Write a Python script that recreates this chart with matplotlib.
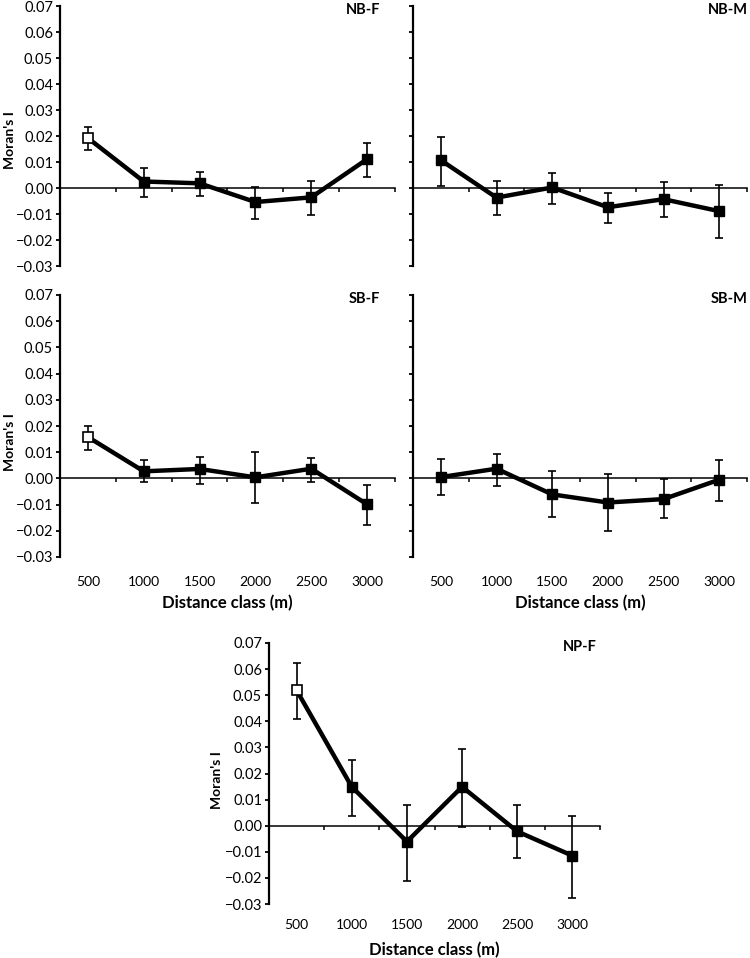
import matplotlib
matplotlib.use("Agg")
import matplotlib.pyplot as plt
import numpy as np

plt.rcParams['font.family'] = ['Lato', 'DejaVu Sans']

W, H = 750, 958

DIST = ["500", "1000", "1500", "2000", "2500", "3000"]
YTICKS = [-0.03, -0.02, -0.01, 0.00, 0.01, 0.02, 0.03, 0.04, 0.05, 0.06, 0.07]

# Moran's I per distance class, with lower / upper limits of the bars
NBF_I  = [0.0192, 0.0025, 0.0018, -0.0054, -0.0036, 0.0111]
NBF_LO = [0.0148, -0.0034, -0.0030, -0.0121, -0.0104, 0.0044]
NBF_HI = [0.0236, 0.0078, 0.0060, 0.0004, 0.0027, 0.0173]
NBF_SIG = [True, False, False, False, False, False]

NBM_I  = [0.0107, -0.0037, 0.0002, -0.0074, -0.0043, -0.0089]
NBM_LO = [0.0008, -0.0103, -0.0060, -0.0133, -0.0112, -0.0192]
NBM_HI = [0.0196, 0.0026, 0.0056, -0.0018, 0.0023, 0.0013]
NBM_SIG = [False, False, False, False, False, False]

SBF_I  = [0.0158, 0.0027, 0.0036, 0.0004, 0.0037, -0.0099]
SBF_LO = [0.0110, -0.0015, -0.0020, -0.0094, -0.0015, -0.0177]
SBF_HI = [0.0200, 0.0070, 0.0083, 0.0099, 0.0078, -0.0025]
SBF_SIG = [True, False, False, False, False, False]

SBM_I  = [0.0005, 0.0037, -0.0061, -0.0092, -0.0079, -0.0005]
SBM_LO = [-0.0064, -0.0029, -0.0148, -0.0202, -0.0151, -0.0085]
SBM_HI = [0.0074, 0.0092, 0.0027, 0.0018, -0.0004, 0.0070]
SBM_SIG = [False, False, False, False, False, False]

NPF_I  = [0.0519, 0.0149, -0.0061, 0.0149, -0.0022, -0.0115]
NPF_LO = [0.0407, 0.0039, -0.0211, -0.0004, -0.0125, -0.0276]
NPF_HI = [0.0625, 0.0252, 0.0081, 0.0294, 0.0081, 0.0039]
NPF_SIG = [True, False, False, False, False, False]


def fmt(v):
    return f"{v:.2f}".replace("-", "\u2212")


fig = plt.figure(figsize=(W / 100, H / 100), dpi=100)


def panel(box, vals, lo, hi, sig, title, title_x, ylab=None, xlab=None):
    # box in pixels: left, top, right, bottom
    l, t, r, b = box
    ax = fig.add_axes([l / W, 1 - b / H, (r - l) / W, (b - t) / H])
    hpx = b - t
    x = np.arange(len(DIST))
    vals = np.array(vals)
    err = [vals - np.array(lo), np.array(hi) - vals]
    ax.errorbar(x, vals, yerr=err, fmt='none', ecolor='black', elinewidth=1.2,
                capsize=3, capthick=1.2, zorder=2)
    ax.plot(x, vals, color='black', lw=3.2, zorder=3)
    sig = np.array(sig)
    ax.plot(x[~sig], vals[~sig], 's', ms=7.5, mfc='black', mec='black', ls='none', zorder=4)
    ax.plot(x[sig], vals[sig], 's', ms=7.5, mfc='white', mec='black', mew=1.2, ls='none', zorder=4)

    ax.set_xlim(-0.5, 5.5)
    ax.set_ylim(-0.03, 0.07)
    for s in ['top', 'right']:
        ax.spines[s].set_visible(False)
    ax.spines['bottom'].set_position(('data', 0))
    ax.spines['bottom'].set_linewidth(1.1)
    ax.spines['left'].set_linewidth(1.6)

    ax.set_xticks(np.arange(0.5, 6, 1))
    ax.set_xticklabels([])
    ax.tick_params(axis='x', direction='out', length=3, width=1.1)
    ax.set_yticks(YTICKS)
    ax.tick_params(axis='y', direction='out', length=3, width=1.3, labelsize=10.5, pad=2)
    if ylab:
        ax.set_yticklabels([fmt(v) for v in YTICKS])
        ax.text(ylab[0], ylab[1], "Moran's I", transform=ax.transAxes, rotation=90,
                ha='center', va='center', fontsize=10, fontweight='bold')
    else:
        ax.set_yticklabels([])

    if xlab:
        sec = ax.secondary_xaxis('bottom')
        sec.set_xticks(x, DIST)
        sec.tick_params(length=0, pad=xlab[0], labelsize=10)
        sec.spines['bottom'].set_visible(False)
        ax.text(0.5, -xlab[1] / hpx, "Distance class (m)", transform=ax.transAxes,
                ha='center', va='center', fontsize=12, fontweight='bold')

    ax.text(title_x, 1 - 4 / hpx, title, transform=ax.transAxes, ha='right', va='center',
            fontsize=10.5, fontweight='bold')
    return ax


panel((60, 6, 395, 266), NBF_I, NBF_LO, NBF_HI, NBF_SIG, "NB-F", 0.955, ylab=(-0.15, 0.485))
panel((413, 6, 747, 266), NBM_I, NBM_LO, NBM_HI, NBM_SIG, "NB-M", 1.003)
panel((60, 295, 395, 557), SBF_I, SBF_LO, SBF_HI, SBF_SIG, "SB-F", 0.955,
      ylab=(-0.15, 0.44), xlab=(14, 46))
panel((413, 295, 747, 557), SBM_I, SBM_LO, SBM_HI, SBM_SIG, "SB-M", 1.003, xlab=(14, 46))
panel((269, 643, 600, 904), NPF_I, NPF_LO, NPF_HI, NPF_SIG, "NP-F", 0.99,
      ylab=(-0.157, 0.475), xlab=(10.5, 46))

fig.savefig("out.png", dpi=100)
